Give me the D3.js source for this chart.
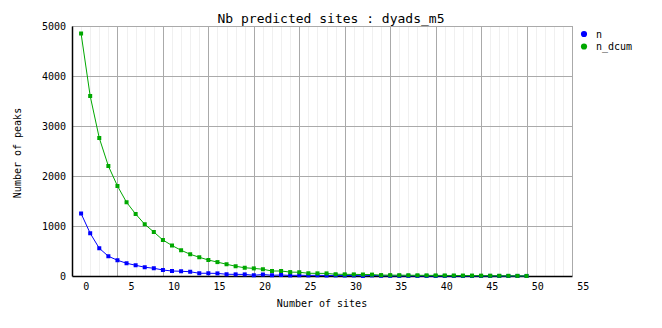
<!DOCTYPE html>
<html>
<head>
<meta charset="utf-8">
<script src="https://cdn.jsdelivr.net/npm/d3@7"></script>
<style>
  body { margin: 0; background: #fff; }
  svg text { font-family: "DejaVu Sans Mono", monospace; fill: #000; }
</style>
</head>
<body>
<script>
// data
var sites = d3.range(0, 50);
var nValues = [1250, 855, 555, 395, 315, 255, 215, 175, 155, 120,
               100, 95, 85, 55, 55, 52, 35, 33, 32, 15,
               30, 15, 20, 12, 15, 12, 14, 10, 12, 10,
               11, 2, 12, 4, 3, 2, 2, 1, 1, 0,
               1, 1, 0, 1, 0, 1, 0, 0, 1, 1];
var nDcumValues = [4850, 3600, 2760, 2200, 1800, 1475, 1240, 1035, 880, 720,
                   610, 515, 435, 375, 320, 278, 235, 195, 165, 152,
                   135, 100, 100, 78, 75, 55, 53, 52, 35, 33,
                   32, 30, 28, 18, 17, 16, 15, 14, 13, 12,
                   11, 10, 9, 8, 7, 6, 5, 4, 3, 1];
var xTickLabels = [0, 5, 10, 15, 20, 25, 30, 35, 40, 45, 50, 55];
var yTickLabels = [0, 1000, 2000, 3000, 4000, 5000];
var series = [
  {name: "n", color: "#0000ff", values: nValues},
  {name: "n_dcum", color: "#00a800", values: nDcumValues}
];

var W = 662, H = 328;
var margin = {top: 26, right: 90, bottom: 52, left: 72};
var width = W - margin.left - margin.right,
    height = H - margin.top - margin.bottom;

var svg = d3.select("body").append("svg")
    .attr("width", W)
    .attr("height", H);

var g = svg.append("g")
    .attr("transform", "translate(" + margin.left + "," + margin.top + ")");

// scales
var x = d3.scaleLinear().domain([-1, 54]).range([0, width]);
var y = d3.scaleLinear().domain([0, 5000]).range([height, 0]);

// minor vertical grid, one per site
g.append("g")
    .selectAll("line")
    .data(d3.range(0, 54))
  .enter().append("line")
    .attr("x1", function(d) { return Math.round(x(d)) + 0.5; })
    .attr("x2", function(d) { return Math.round(x(d)) + 0.5; })
    .attr("y1", 0)
    .attr("y2", height)
    .attr("stroke", "#f0f0f0");

// major vertical grid
g.append("g")
    .selectAll("line")
    .data(d3.range(4, 55, 5))
  .enter().append("line")
    .attr("x1", function(d) { return Math.round(x(d)) + 0.5; })
    .attr("x2", function(d) { return Math.round(x(d)) + 0.5; })
    .attr("y1", 0)
    .attr("y2", height)
    .attr("stroke", "#aaaaaa");

// horizontal grid
g.append("g")
    .selectAll("line")
    .data(yTickLabels.slice(1))
  .enter().append("line")
    .attr("x1", 0)
    .attr("x2", width)
    .attr("y1", function(d) { return Math.round(y(d)) + 0.5; })
    .attr("y2", function(d) { return Math.round(y(d)) + 0.5; })
    .attr("stroke", "#aaaaaa");

// y axis
var yAxis = g.append("g")
    .call(d3.axisLeft(y).tickValues(yTickLabels).tickFormat(d3.format("d"))
      .tickSize(0).tickPadding(6));
yAxis.select(".domain").attr("stroke", "#000").attr("stroke-width", 1.5);
yAxis.selectAll("text")
    .style("font-size", "10px");

// x axis, labels sit a little right of the site
var xAxis = g.append("g")
    .attr("transform", "translate(0," + height + ")")
    .call(d3.axisBottom(x).tickValues(xTickLabels).tickFormat(d3.format("d"))
      .tickSize(0).tickPadding(7));
xAxis.select(".domain").attr("stroke", "#000").attr("stroke-width", 1.5);
xAxis.selectAll("text")
    .style("font-size", "10px")
    .attr("text-anchor", "end")
    .attr("dx", "7.6px");

// series
var line = d3.line()
    .x(function(d, i) { return x(sites[i]); })
    .y(function(d) { return y(d); });

series.forEach(function(s) {
  g.append("path")
      .datum(s.values)
      .attr("fill", "none")
      .attr("stroke", s.color)
      .attr("stroke-width", 1)
      .attr("d", line);

  g.selectAll(".pt-" + s.name)
      .data(s.values)
    .enter().append("rect")
      .attr("x", function(d, i) { return x(sites[i]) - 2; })
      .attr("y", function(d) { return y(d) - 2; })
      .attr("width", 4)
      .attr("height", 4)
      .attr("fill", s.color);
});

// title and axis titles
svg.append("text")
    .attr("x", W / 2)
    .attr("y", 23)
    .attr("text-anchor", "middle")
    .style("font-size", "13px")
    .text("Nb predicted sites : dyads_m5");

svg.append("text")
    .attr("x", margin.left + width / 2)
    .attr("y", 307)
    .attr("text-anchor", "middle")
    .style("font-size", "10px")
    .text("Number of sites");

svg.append("text")
    .attr("transform", "translate(21," + (margin.top + height / 2 + 2) + ") rotate(-90)")
    .attr("text-anchor", "middle")
    .style("font-size", "10px")
    .text("Number of peaks");

// legend
var legend = svg.append("g")
    .attr("transform", "translate(584,34)");

var item = legend.selectAll("g")
    .data(series)
  .enter().append("g")
    .attr("transform", function(d, i) { return "translate(0," + (i * 12.5) + ")"; });

item.append("path")
    .attr("d", d3.symbol().type(d3.symbolCircle).size(30))
    .attr("fill", function(d) { return d.color; });

item.append("text")
    .attr("x", 12)
    .attr("dy", "0.35em")
    .style("font-size", "10px")
    .text(function(d) { return d.name; });
</script>
</body>
</html>
